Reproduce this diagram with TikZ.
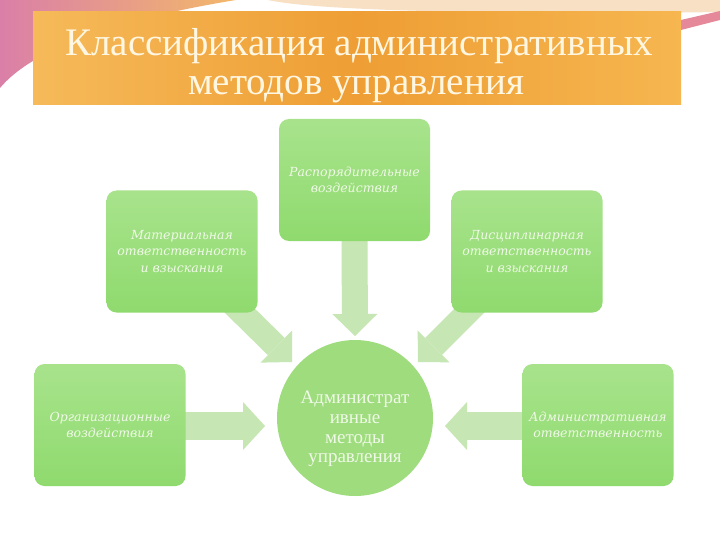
\documentclass[tikz,border=0pt]{standalone}
\usepackage{fontspec}
\setmainfont{Liberation Serif}
\newfontfamily\boxfont{DejaVu Serif}
\usetikzlibrary{arrows.meta,calc}
\definecolor{gTop}{HTML}{A8E38C}
\definecolor{gBot}{HTML}{8FDA6E}
\definecolor{gCirc}{HTML}{9EDC7E}
\definecolor{gText}{HTML}{F0F9E8}
\definecolor{arrowc}{HTML}{C6E6B3}
\definecolor{bandL}{HTML}{F6BA5A}
\definecolor{bandM}{HTML}{EE9E34}
\definecolor{bandR}{HTML}{F6B650}
\definecolor{titlec}{HTML}{FFF7E2}
\definecolor{pinkA}{HTML}{DA7FA8}
\definecolor{orangeA}{HTML}{F3B86A}
\definecolor{peach}{HTML}{F8E0C4}
\definecolor{stripe}{HTML}{E5889A}
\pgfdeclarelayer{bg}
\pgfsetlayers{bg,main}
\begin{document}
\begin{tikzpicture}[x=1pt,y=-1pt,
  gbox/.style={rounded corners=10pt, top color=gTop, bottom color=gBot,
    minimum width=151pt, minimum height=122pt, align=center, text=gText,
    font=\boxfont\itshape\fontsize{12.5}{16.5}\selectfont, inner sep=2pt},
  barrow/.style 2 args={draw=arrowc, line width=#1,
    -{Triangle[width=#2, length=22pt, line width=0pt]}},
  titletext/.style={anchor=base, text=titlec, font=\fontsize{39}{42}\selectfont, inner sep=0pt}
]
\useasboundingbox (0,0) rectangle (720,540);

% title band and title
\shade[left color=bandL, right color=bandR, middle color=bandM] (33,12) rectangle (681,105);
\node[titletext] (t1) at (359,56) {Классификация административных};
\node[titletext] (t2) at (356,95) {методов управления};

% nodes
\node[gbox] (t)  at (354.5,180) {Распорядительные\\воздействия};
\node[gbox] (lm) at (182,251.5) {Материальная\\ответственность\\и взыскания};
\node[gbox] (rm) at (527,251.5) {Дисциплинарная\\ответственность\\и взыскания};
\node[gbox] (lb) at (110,425) {Организационные\\воздействия};
\node[gbox] (rb) at (598,425) {Административная\\ответственность};
\node[circle, fill=gCirc, minimum size=156pt, inner sep=0pt] (c) at (355,418) {};
\node[align=center, text=gText, inner sep=0pt,
  font=\fontsize{19}{19.7}\selectfont] (ctext) at (355,429)
  {Администрат\\ивные\\методы\\управления};

\begin{pgfonlayer}{bg}
  \fill[white] (0,0) rectangle (720,540);
  % decorative corners
  \shade[shading angle=150, left color=pinkA, right color=orangeA]
    (0,0) -- (236,0) .. controls (150,14) and (40,40) .. (0,88) -- cycle;
  \fill[peach] (268,0) -- (720,0) -- (720,12) .. controls (600,14) and (330,14) .. (268,0) -- cycle;
  \fill[stripe] (681,20) -- (720,11) -- (720,20) -- (681,30) -- cycle;
  % block arrows
  \draw[barrow={26pt}{45pt}] ($(t.south)+(0,-5)$) -- ($(c.center)+(0,-82)$);
  \draw[barrow={24pt}{45pt}] ($(lm.south east)+(-26,-10)$) -- ($(c.center)+(-63,-56)$);
  \draw[barrow={24pt}{45pt}] ($(rm.south west)+(26,-10)$) -- ($(c.center)+(63,-56)$);
  \draw[barrow={28pt}{48pt}] ($(lb.east)+(-5,1)$) -- ($(c.center)+(-90,8)$);
  \draw[barrow={28pt}{48pt}] ($(rb.west)+(5,1)$) -- ($(c.center)+(90,8)$);
\end{pgfonlayer}
\end{tikzpicture}
\end{document}
